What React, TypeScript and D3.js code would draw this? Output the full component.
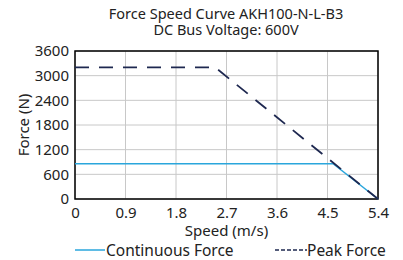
import React, { useEffect, useRef } from 'react';
import * as d3 from 'd3';

const xTicks = [0, 0.9, 1.8, 2.7, 3.6, 4.5, 5.4];
const yTicks = [0, 600, 1200, 1800, 2400, 3000, 3600];

const continuousSpeed = [0, 4.6, 5.4];
const continuousForce = [860, 860, 0];

const peakSpeed = [0, 2.5, 5.4];
const peakForce = [3200, 3200, 0];

const titleLines = ['Force Speed Curve AKH100-N-L-B3', 'DC Bus Voltage: 600V'];

const blue = '#2aa6dc';
const navy = '#1e2850';
const font = '"Noto Sans", sans-serif';

export default function App() {
  const svgRef = useRef<SVGSVGElement>(null);

  useEffect(() => {
    if (!svgRef.current) return;
    const svg = d3.select(svgRef.current);
    svg.selectAll('*').remove();

    const margin = { top: 51, right: 25, bottom: 61, left: 75 };
    const width = 403;
    const height = 260;
    const innerWidth = width - margin.left - margin.right;
    const innerHeight = height - margin.top - margin.bottom;

    const x = d3.scaleLinear().domain([0, 5.4]).range([0, innerWidth]);
    const y = d3.scaleLinear().domain([0, 3600]).range([innerHeight, 0]);

    const g = svg.append('g').attr('transform', `translate(${margin.left},${margin.top})`);

    // 标题
    titleLines.forEach((t, i) => {
      svg.append('text')
        .attr('x', 226)
        .attr('y', 19 + i * 16)
        .attr('text-anchor', 'middle')
        .style('font-family', font)
        .style('font-size', '14.5px')
        .style('fill', '#222')
        .text(t);
    });

    // 网格
    g.selectAll('.vgrid').data(xTicks).enter().append('line')
      .attr('x1', d => x(d)).attr('x2', d => x(d))
      .attr('y1', 0).attr('y2', innerHeight)
      .attr('stroke', '#c8c8c8').attr('stroke-width', 1);
    g.selectAll('.hgrid').data(yTicks).enter().append('line')
      .attr('x1', 0).attr('x2', innerWidth)
      .attr('y1', d => y(d)).attr('y2', d => y(d))
      .attr('stroke', '#c8c8c8').attr('stroke-width', 1);

    // 坐标轴
    const xAxis = d3.axisBottom(x).tickValues(xTicks).tickSize(0).tickPadding(8)
      .tickFormat(d => String(d));
    const yAxis = d3.axisLeft(y).tickValues(yTicks).tickSize(0).tickPadding(6)
      .tickFormat(d => String(d));

    const xa = g.append('g').attr('transform', `translate(0,${innerHeight})`).call(xAxis);
    const ya = g.append('g').call(yAxis);
    [xa, ya].forEach(a => {
      a.select('.domain').remove();
      a.selectAll('text')
        .style('font-family', font)
        .style('font-size', '15px')
        .style('fill', '#222');
    });

    // 边框
    g.append('rect')
      .attr('x', 0).attr('y', 0)
      .attr('width', innerWidth).attr('height', innerHeight)
      .attr('fill', 'none').attr('stroke', '#000').attr('stroke-width', 1.5);

    const line = d3.line<[number, number]>().x(d => x(d[0])).y(d => y(d[1]));

    const peakData = peakSpeed.map((s, i) => [s, peakForce[i]] as [number, number]);
    const contData = continuousSpeed.map((s, i) => [s, continuousForce[i]] as [number, number]);

    g.append('path').datum(contData)
      .attr('d', line).attr('fill', 'none')
      .attr('stroke', blue).attr('stroke-width', 1.5);

    g.append('path').datum(peakData)
      .attr('d', line).attr('fill', 'none')
      .attr('stroke', navy).attr('stroke-width', 1.8)
      .attr('stroke-dasharray', '14,10');

    // 轴标题
    svg.append('text')
      .attr('x', margin.left + innerWidth / 2)
      .attr('y', 236)
      .attr('text-anchor', 'middle')
      .style('font-family', font).style('font-size', '15px').style('fill', '#222')
      .text('Speed (m/s)');

    svg.append('text')
      .attr('transform', `translate(29,${margin.top + innerHeight / 2}) rotate(-90)`)
      .attr('text-anchor', 'middle')
      .style('font-family', font).style('font-size', '15px').style('fill', '#222')
      .text('Force (N)');

    // 图例
    const legend = svg.append('g').attr('transform', 'translate(0,250)');
    legend.append('line').attr('x1', 75).attr('x2', 105).attr('y1', 0).attr('y2', 0)
      .attr('stroke', blue).attr('stroke-width', 1.5);
    legend.append('text').attr('x', 106).attr('y', 6)
      .style('font-family', font).style('font-size', '15.5px').style('fill', '#222')
      .text('Continuous Force');
    legend.append('line').attr('x1', 275).attr('x2', 307).attr('y1', 0).attr('y2', 0)
      .attr('stroke', navy).attr('stroke-width', 1.5).attr('stroke-dasharray', '4,2');
    legend.append('text').attr('x', 307).attr('y', 6)
      .style('font-family', font).style('font-size', '15.5px').style('fill', '#222')
      .text('Peak Force');
  }, []);

  return (
    <svg ref={svgRef} width={403} height={260}
      style={{ position: 'absolute', left: 0, top: 0, background: '#fff' }} />
  );
}
